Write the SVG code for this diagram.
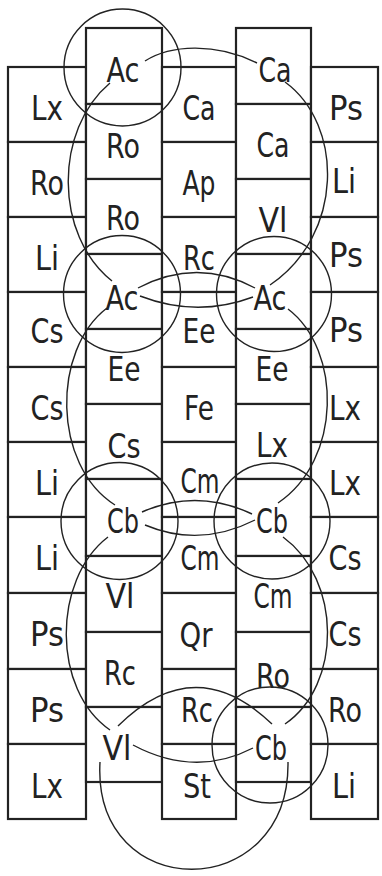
<svg xmlns="http://www.w3.org/2000/svg" width="382" height="876" viewBox="0 0 382 876">
<style>
rect{fill:#fff;stroke:#222;stroke-width:2.2}
text{font-family:"DejaVu Sans",sans-serif;font-size:34px;fill:#222;text-anchor:middle}
.c{fill:none;stroke:#222;stroke-width:1.4}
</style>
<rect x="0" y="0" width="382" height="876" style="fill:#fff;stroke:none"/>
<g id="cells">
<g id="c1r1"><rect x="8" y="67" width="78" height="75"/><text x="47" y="120" textLength="32" lengthAdjust="spacingAndGlyphs">Lx</text></g>
<g id="c1r2"><rect x="8" y="142" width="78" height="75"/><text x="47" y="195" textLength="34" lengthAdjust="spacingAndGlyphs">Ro</text></g>
<g id="c1r3"><rect x="8" y="217" width="78" height="75"/><text x="47" y="270" textLength="24" lengthAdjust="spacingAndGlyphs">Li</text></g>
<g id="c1r4"><rect x="8" y="292" width="78" height="75"/><text x="47" y="343" textLength="33" lengthAdjust="spacingAndGlyphs">Cs</text></g>
<g id="c1r5"><rect x="8" y="367" width="78" height="75"/><text x="47" y="420" textLength="33" lengthAdjust="spacingAndGlyphs">Cs</text></g>
<g id="c1r6"><rect x="8" y="442" width="78" height="75"/><text x="47" y="495" textLength="24" lengthAdjust="spacingAndGlyphs">Li</text></g>
<g id="c1r7"><rect x="8" y="517" width="78" height="76"/><text x="47" y="570" textLength="24" lengthAdjust="spacingAndGlyphs">Li</text></g>
<g id="c1r8"><rect x="8" y="593" width="78" height="76"/><text x="47" y="646" textLength="34" lengthAdjust="spacingAndGlyphs">Ps</text></g>
<g id="c1r9"><rect x="8" y="669" width="78" height="75"/><text x="47" y="722" textLength="34" lengthAdjust="spacingAndGlyphs">Ps</text></g>
<g id="c1r10"><rect x="8" y="744" width="78" height="75"/><text x="47" y="798" textLength="32" lengthAdjust="spacingAndGlyphs">Lx</text></g>

<g id="c2r1"><rect x="86" y="28" width="76" height="76"/><text x="123" y="82" textLength="33" lengthAdjust="spacingAndGlyphs">Ac</text></g>
<g id="c2r2"><rect x="86" y="104" width="76" height="75"/><text x="123" y="158" textLength="34" lengthAdjust="spacingAndGlyphs">Ro</text></g>
<g id="c2r3"><rect x="86" y="179" width="76" height="75"/><text x="123" y="230" textLength="34" lengthAdjust="spacingAndGlyphs">Ro</text></g>
<g id="c2r4"><rect x="86" y="254" width="76" height="75"/><text x="122" y="310" textLength="33" lengthAdjust="spacingAndGlyphs">Ac</text></g>
<g id="c2r5"><rect x="86" y="329" width="76" height="75"/><text x="124" y="381" textLength="33" lengthAdjust="spacingAndGlyphs">Ee</text></g>
<g id="c2r6"><rect x="86" y="404" width="76" height="75"/><text x="124" y="458" textLength="33" lengthAdjust="spacingAndGlyphs">Cs</text></g>
<g id="c2r7"><rect x="86" y="479" width="76" height="77"/><text x="123" y="533" textLength="32" lengthAdjust="spacingAndGlyphs">Cb</text></g>
<g id="c2r8"><rect x="86" y="556" width="76" height="76"/><text x="120" y="608" textLength="29" lengthAdjust="spacingAndGlyphs">Vl</text></g>
<g id="c2r9"><rect x="86" y="632" width="76" height="75"/><text x="120" y="685" textLength="32" lengthAdjust="spacingAndGlyphs">Rc</text></g>
<g id="c2r10"><rect x="86" y="707" width="76" height="75"/><text x="117" y="760" textLength="29" lengthAdjust="spacingAndGlyphs">Vl</text></g>

<g id="c3r1"><rect x="162" y="67" width="74" height="75"/><text x="199" y="120" textLength="33" lengthAdjust="spacingAndGlyphs">Ca</text></g>
<g id="c3r2"><rect x="162" y="142" width="74" height="75"/><text x="199" y="195" textLength="33" lengthAdjust="spacingAndGlyphs">Ap</text></g>
<g id="c3r3"><rect x="162" y="217" width="74" height="75"/><text x="199" y="270" textLength="32" lengthAdjust="spacingAndGlyphs">Rc</text></g>
<g id="c3r4"><rect x="162" y="292" width="74" height="75"/><text x="199" y="343" textLength="33" lengthAdjust="spacingAndGlyphs">Ee</text></g>
<g id="c3r5"><rect x="162" y="367" width="74" height="75"/><text x="199" y="420" textLength="30" lengthAdjust="spacingAndGlyphs">Fe</text></g>
<g id="c3r6"><rect x="162" y="442" width="74" height="75"/><text x="200" y="493" textLength="39" lengthAdjust="spacingAndGlyphs">Cm</text></g>
<g id="c3r7"><rect x="162" y="517" width="74" height="76"/><text x="200" y="570" textLength="39" lengthAdjust="spacingAndGlyphs">Cm</text></g>
<g id="c3r8"><rect x="162" y="593" width="74" height="76"/><text x="196" y="647" textLength="33" lengthAdjust="spacingAndGlyphs">Qr</text></g>
<g id="c3r9"><rect x="162" y="669" width="74" height="75"/><text x="197" y="722" textLength="32" lengthAdjust="spacingAndGlyphs">Rc</text></g>
<g id="c3r10"><rect x="162" y="744" width="74" height="75"/><text x="197" y="798" textLength="28" lengthAdjust="spacingAndGlyphs">St</text></g>

<g id="c4r1"><rect x="236" y="28" width="75" height="76"/><text x="275" y="82" textLength="33" lengthAdjust="spacingAndGlyphs">Ca</text></g>
<g id="c4r2"><rect x="236" y="104" width="75" height="75"/><text x="273" y="157" textLength="33" lengthAdjust="spacingAndGlyphs">Ca</text></g>
<g id="c4r3"><rect x="236" y="179" width="75" height="75"/><text x="273" y="232" textLength="29" lengthAdjust="spacingAndGlyphs">Vl</text></g>
<g id="c4r4"><rect x="236" y="254" width="75" height="75"/><text x="270" y="310" textLength="33" lengthAdjust="spacingAndGlyphs">Ac</text></g>
<g id="c4r5"><rect x="236" y="329" width="75" height="75"/><text x="272" y="381" textLength="33" lengthAdjust="spacingAndGlyphs">Ee</text></g>
<g id="c4r6"><rect x="236" y="404" width="75" height="75"/><text x="272" y="457" textLength="32" lengthAdjust="spacingAndGlyphs">Lx</text></g>
<g id="c4r7"><rect x="236" y="479" width="75" height="77"/><text x="272" y="533" textLength="32" lengthAdjust="spacingAndGlyphs">Cb</text></g>
<g id="c4r8"><rect x="236" y="556" width="75" height="76"/><text x="273" y="608" textLength="39" lengthAdjust="spacingAndGlyphs">Cm</text></g>
<g id="c4r9"><rect x="236" y="632" width="75" height="75"/><text x="273" y="688" textLength="34" lengthAdjust="spacingAndGlyphs">Ro</text></g>
<g id="c4r10"><rect x="236" y="707" width="75" height="75"/><text x="271" y="760" textLength="32" lengthAdjust="spacingAndGlyphs">Cb</text></g>

<g id="c5r1"><rect x="311" y="67" width="67" height="75"/><text x="346" y="120" textLength="34" lengthAdjust="spacingAndGlyphs">Ps</text></g>
<g id="c5r2"><rect x="311" y="142" width="67" height="75"/><text x="344" y="193" textLength="24" lengthAdjust="spacingAndGlyphs">Li</text></g>
<g id="c5r3"><rect x="311" y="217" width="67" height="75"/><text x="346" y="267" textLength="34" lengthAdjust="spacingAndGlyphs">Ps</text></g>
<g id="c5r4"><rect x="311" y="292" width="67" height="75"/><text x="346" y="342" textLength="34" lengthAdjust="spacingAndGlyphs">Ps</text></g>
<g id="c5r5"><rect x="311" y="367" width="67" height="75"/><text x="345" y="420" textLength="32" lengthAdjust="spacingAndGlyphs">Lx</text></g>
<g id="c5r6"><rect x="311" y="442" width="67" height="75"/><text x="345" y="495" textLength="32" lengthAdjust="spacingAndGlyphs">Lx</text></g>
<g id="c5r7"><rect x="311" y="517" width="67" height="76"/><text x="345" y="570" textLength="33" lengthAdjust="spacingAndGlyphs">Cs</text></g>
<g id="c5r8"><rect x="311" y="593" width="67" height="76"/><text x="345" y="646" textLength="33" lengthAdjust="spacingAndGlyphs">Cs</text></g>
<g id="c5r9"><rect x="311" y="669" width="67" height="75"/><text x="345" y="722" textLength="34" lengthAdjust="spacingAndGlyphs">Ro</text></g>
<g id="c5r10"><rect x="311" y="744" width="67" height="75"/><text x="344" y="798" textLength="24" lengthAdjust="spacingAndGlyphs">Li</text></g>
</g>

<g id="circles">
<circle class="c" cx="122.5" cy="67.5" r="58.5"/>
<circle class="c" cx="122" cy="294" r="58.5"/>
<circle class="c" cx="274" cy="294" r="57.5"/>
<circle class="c" cx="119.5" cy="521" r="58.5"/>
<circle class="c" cx="272" cy="521" r="58"/>
<circle class="c" cx="270" cy="745" r="58"/>
</g>

<g id="connectors">
<path class="c" d="M145,61 C170,45 215,42 257,63"/>
<path class="c" d="M110,83 C54,130 54,235 112,281"/>
<path class="c" d="M285,82 C344,125 344,235 270,285"/>
<path class="c" d="M138,288 Q197,257 255,288"/>
<path class="c" d="M140,296 Q197,318 253,297"/>
<path class="c" d="M107,308 C52,350 52,465 115,505"/>
<path class="c" d="M288,309 C342,350 342,460 278,503"/>
<path class="c" d="M142,512 Q197,488 252,514"/>
<path class="c" d="M145,525 Q200,548 255,520"/>
<path class="c" d="M108,537 C52,580 52,690 110,730"/>
<path class="c" d="M283,537 C342,580 342,685 285,724"/>
<path class="c" d="M118,726 Q195,650 272,724"/>
<path class="c" d="M133,745 Q195,778 253,748"/>
<path class="c" d="M100,762 C92,905 290,905 288,762"/>
</g>
</svg>
